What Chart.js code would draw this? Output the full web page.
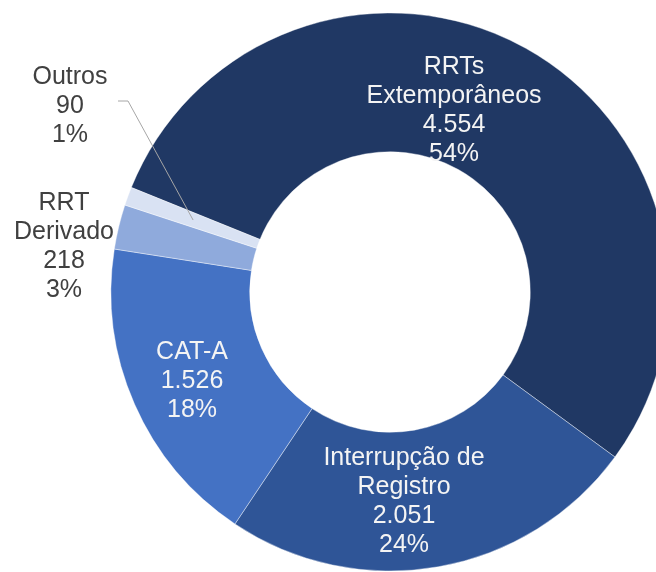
<!DOCTYPE html>
<html>
<head>
<meta charset="utf-8">
<script src="https://cdn.jsdelivr.net/npm/chart.js@4/dist/chart.umd.min.js"></script>
<style>
  html, body { margin: 0; padding: 0; background: #fff; overflow: hidden; }
  #wrap { position: absolute; left: 0; top: 0; width: 656px; height: 572px; overflow: hidden; }
  canvas { position: absolute; left: 0; top: 0; }
</style>
</head>
<body>
<div id="wrap"><canvas id="donut" width="780" height="572"></canvas></div>
<script>
// Data
const categories = [['RRTs', 'Extemporâneos'], ['Interrupção de', 'Registro'], ['CAT-A'], ['RRT', 'Derivado'], ['Outros']];
const values = [4554, 2051, 1526, 218, 90];
const colors = ['#203864', '#2f5597', '#4472c4', '#8faadc', '#d9e2f3'];

const total = values.reduce((a, b) => a + b, 0);
const fmt = v => String(v).replace(/\B(?=(\d{3})+(?!\d))/g, '.');

// label block centres, relative to chart centre
const labelPos = [
  { dx: 64, dy: -184, color: '#f4f4f4' },
  { dx: 14, dy: 207, color: '#f4f4f4' },
  { dx: -198, dy: 87, color: '#f4f4f4' },
  { dx: -326, dy: -48, color: '#404040' },
  { dx: -320, dy: -188, color: '#404040' }
];

const labelPlugin = {
  id: 'sliceLabels',
  afterDatasetsDraw(chart) {
    const ctx = chart.ctx;
    const arcs = chart.getDatasetMeta(0).data;
    ctx.save();
    ctx.font = '25px "Liberation Sans", Arial, sans-serif';
    ctx.textAlign = 'center';
    ctx.textBaseline = 'alphabetic';

    // leader line for Outros
    const o = arcs[4];
    const mid = (o.startAngle + o.endAngle) / 2;
    const r = (o.innerRadius + o.outerRadius) / 2;
    ctx.strokeStyle = '#a6a6a6';
    ctx.lineWidth = 1;
    ctx.beginPath();
    ctx.moveTo(o.x - 272, o.y - 191);
    ctx.lineTo(o.x - 262, o.y - 191);
    ctx.lineTo(o.x + Math.cos(mid) * r, o.y + Math.sin(mid) * r);
    ctx.stroke();

    arcs.forEach((arc, i) => {
      const lines = [...categories[i], fmt(values[i]), Math.round(values[i] / total * 100) + '%'];
      const lh = 29;
      const cx = arc.x + labelPos[i].dx;
      const cy = arc.y + labelPos[i].dy;
      ctx.fillStyle = labelPos[i].color;
      lines.forEach((t, k) => {
        const y = cy + (k - (lines.length - 1) / 2) * lh + 9;
        ctx.fillText(t, cx, y);
      });
    });
    ctx.restore();
  }
};

new Chart(document.getElementById('donut'), {
  type: 'doughnut',
  data: {
    labels: categories,
    datasets: [{
      data: values,
      backgroundColor: colors,
      borderColor: 'rgba(255,255,255,0.4)',
      borderWidth: 1,
      hoverOffset: 0
    }]
  },
  options: {
    responsive: false,
    animation: false,
    rotation: -68,
    radius: 279,
    cutout: 140,
    layout: { padding: { top: 13, bottom: 1, left: 0, right: 0 } },
    plugins: {
      legend: { display: false },
      tooltip: { enabled: false }
    }
  },
  plugins: [labelPlugin]
});
</script>
</body>
</html>
